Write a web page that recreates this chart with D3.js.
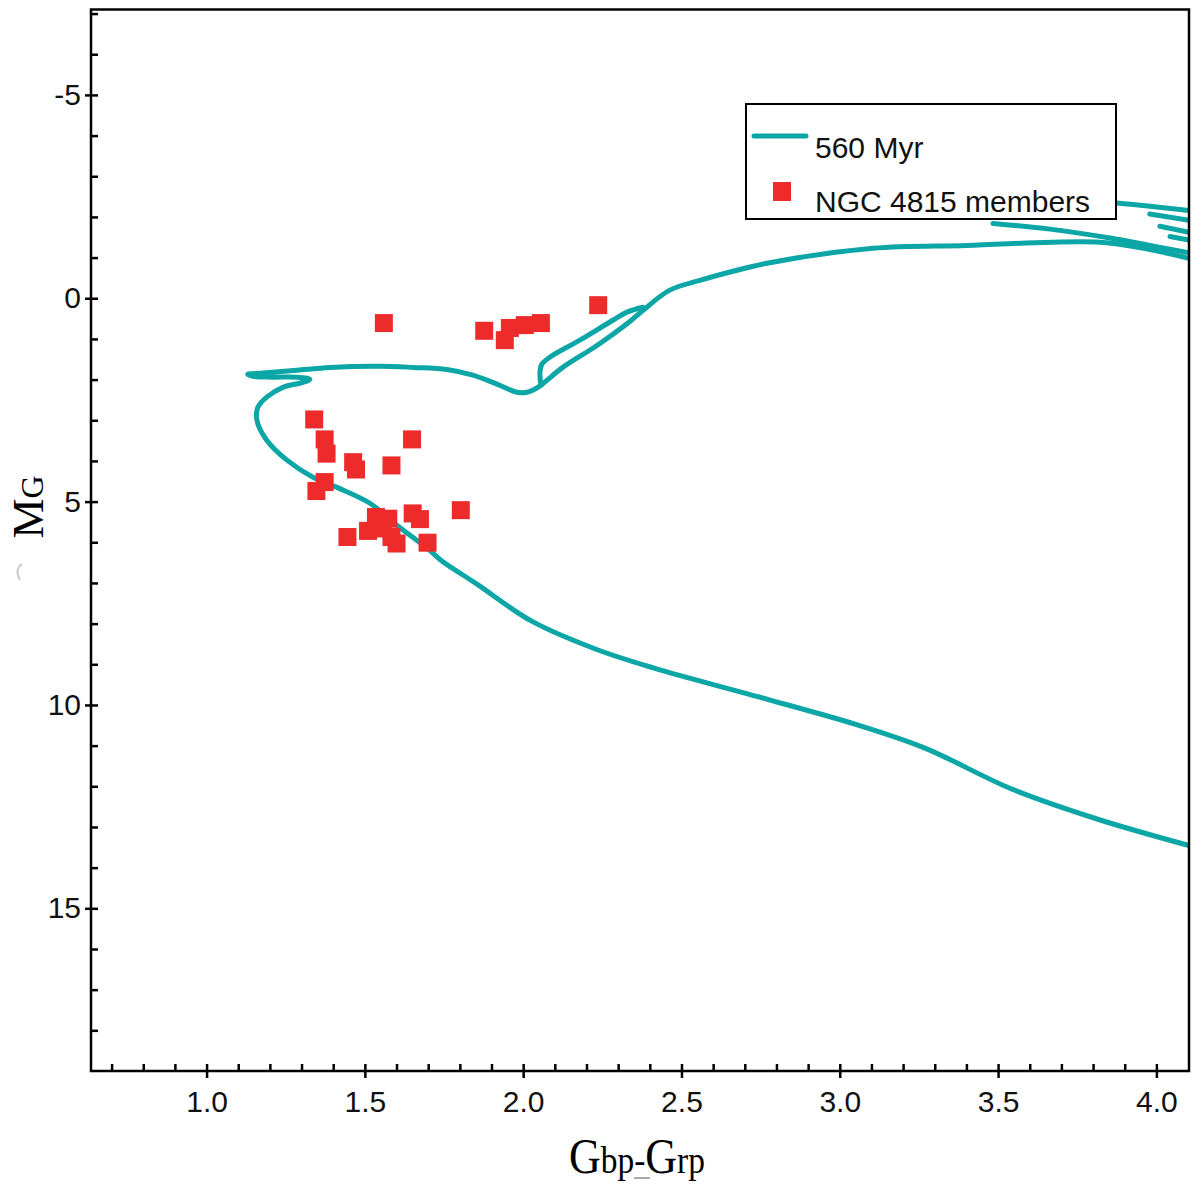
<!DOCTYPE html>
<html lang="en">
<head>
    <meta charset="UTF-8">
    <title>NGC 4815 CMD</title>
    <style>
        body {
            margin: 0;
            background: #fff;
        }

        .tick text {
            font-family: "Liberation Sans", Arial, sans-serif;
            font-size: 30px;
            fill: #111;
        }

        .tick line {
            stroke: #000;
            stroke-width: 2.5px;
        }

        .iso {
            fill: none;
            stroke: #0ca6a6;
            stroke-width: 5px;
            stroke-linecap: round;
            stroke-linejoin: round;
        }

        .member {
            fill: #ee2b2b;
        }

        .legend text {
            font-family: "Liberation Sans", Arial, sans-serif;
            font-size: 30px;
            fill: #111;
        }

        .title {
            font-family: "Liberation Serif", "Times New Roman", serif;
            fill: #000;
        }
    </style>
</head>
<body>
    <svg id="chart" width="1200" height="1186"></svg>

    <script src="https://d3js.org/d3.v7.min.js"></script>
    <script>
        // isochrone 560 Myr, main track: lower MS -> turnoff hook -> subgiant -> RGB
        const mainColor = [4.10, 3.815, 3.544, 3.269, 3.060, 2.738, 2.416, 2.230, 2.027, 1.854,
            1.740, 1.705, 1.601, 1.516, 1.412, 1.336, 1.254, 1.190, 1.159, 1.162,
            1.190, 1.241, 1.304, 1.326, 1.285, 1.209, 1.146, 1.130, 1.178, 1.285,
            1.389, 1.547, 1.652, 1.759, 1.841, 1.917, 1.980, 2.012, 2.046, 2.125,
            2.233, 2.337, 2.378, 2.463, 2.558, 2.770, 3.105, 3.401, 3.822, 3.979, 4.103];
        const mainMag = [13.45, 12.81, 12.07, 11.06, 10.50, 9.79, 9.10, 8.63, 7.94, 7.03,
            6.44, 6.20, 5.58, 5.04, 4.65, 4.40, 3.98, 3.49, 3.00, 2.68,
            2.43, 2.19, 2.07, 1.99, 1.94, 1.94, 1.92, 1.87, 1.84, 1.77,
            1.70, 1.67, 1.70, 1.75, 1.89, 2.11, 2.31, 2.31, 2.19, 1.70,
            1.16, 0.57, 0.30, -0.20, -0.44, -0.86, -1.23, -1.30, -1.38, -1.20, -0.98];

        // narrow loop above the subgiant dip
        const loopColor = [2.056, 2.053, 2.059, 2.084, 2.179, 2.283, 2.328, 2.378];
        const loopMag = [2.14, 1.82, 1.62, 1.45, 1.03, 0.54, 0.34, 0.22];

        // bright branches near the right edge
        const agbColor = [3.695, 3.875, 3.979, 4.103];
        const agbMag = [-2.43, -2.34, -2.26, -2.16];
        const clumpColor = [3.484, 3.664, 3.854, 3.979, 4.103];
        const clumpMag = [-1.84, -1.70, -1.48, -1.30, -1.12];
        const tipColor = [3.979, 4.103, null, 4.011, 4.103, null, 4.043, 4.103];
        const tipMag = [-2.07, -1.92, null, -1.77, -1.62, null, -1.52, -1.43];

        // NGC 4815 members
        const memColor = [1.560, 1.877, 1.942, 1.958, 2.005, 2.056, 2.237, 1.340, 1.373, 1.379,
            1.463, 1.472, 1.649, 1.584, 1.373, 1.347, 1.535, 1.574, 1.651, 1.674,
            1.803, 1.445, 1.510, 1.584, 1.600, 1.698, 1.557];
        const memMag = [0.61, 0.80, 1.03, 0.73, 0.66, 0.61, 0.17, 2.98, 3.47, 3.82,
            4.03, 4.21, 3.47, 4.11, 4.52, 4.74, 5.38, 5.42, 5.29, 5.43,
            5.21, 5.87, 5.72, 5.87, 6.03, 6.01, 5.66];

        const xMajor = [1.0, 1.5, 2.0, 2.5, 3.0, 3.5, 4.0];
        const yMajor = [-5, 0, 5, 10, 15];

        const plotLeft = 91, plotRight = 1189, plotTop = 9.5, plotBottom = 1071;

        const svg = d3.select("#chart");

        const x = d3.scaleLinear().domain([0.635, 4.103]).range([plotLeft, plotRight]);
        const y = d3.scaleLinear().domain([-7.1, 19.0]).range([plotTop, plotBottom]);

        svg.append("defs").append("clipPath")
            .attr("id", "plot-clip")
            .append("rect")
            .attr("x", plotLeft).attr("y", plotTop)
            .attr("width", plotRight - plotLeft).attr("height", plotBottom - plotTop);

        const zip = (cs, ms) => cs.map((c, i) => ({ c: c, m: ms[i] }));

        const line = d3.line()
            .defined(d => d.c != null)
            .x(d => x(d.c))
            .y(d => y(d.m))
            .curve(d3.curveCatmullRom.alpha(0.5));

        const plot = svg.append("g").attr("clip-path", "url(#plot-clip)");

        [zip(mainColor, mainMag), zip(loopColor, loopMag), zip(agbColor, agbMag),
            zip(clumpColor, clumpMag), zip(tipColor, tipMag)].forEach(pts => {
            plot.append("path")
                .attr("class", "iso")
                .attr("d", line(pts));
        });

        // members, drawn as squares
        const sq = 18;
        plot.selectAll(".member")
            .data(zip(memColor, memMag))
            .enter()
            .append("rect")
            .attr("class", "member")
            .attr("x", d => x(d.c) - sq / 2)
            .attr("y", d => y(d.m) - sq / 2)
            .attr("width", sq)
            .attr("height", sq);

        // axes: inward minor/major ticks plus outward major ticks with labels
        const xMinor = d3.range(7, 41).map(v => v / 10);
        const yMinor = d3.range(-7, 19);

        svg.append("g")
            .attr("transform", `translate(0,${plotBottom})`)
            .call(d3.axisBottom(x).tickValues(xMinor).tickSize(-7).tickFormat(""))
            .call(g => g.select(".domain").remove());

        svg.append("g")
            .attr("transform", `translate(0,${plotBottom})`)
            .call(d3.axisBottom(x).tickValues(xMajor).tickSize(7).tickPadding(13)
                .tickFormat(d3.format(".1f")))
            .call(g => g.select(".domain").remove());

        svg.append("g")
            .attr("transform", `translate(${plotLeft},0)`)
            .call(d3.axisLeft(y).tickValues(yMinor).tickSize(-7).tickFormat(""))
            .call(g => g.select(".domain").remove());

        svg.append("g")
            .attr("transform", `translate(${plotLeft},0)`)
            .call(d3.axisLeft(y).tickValues(yMajor).tickSize(6).tickPadding(4)
                .tickFormat(d => String(d)))
            .call(g => g.select(".domain").remove());

        // frame
        svg.append("rect")
            .attr("x", plotLeft).attr("y", plotTop)
            .attr("width", plotRight - plotLeft).attr("height", plotBottom - plotTop)
            .attr("fill", "none")
            .attr("stroke", "#000")
            .attr("stroke-width", 2.5);

        // legend
        const legend = svg.append("g").attr("class", "legend");
        legend.append("rect")
            .attr("x", 746).attr("y", 104)
            .attr("width", 370).attr("height", 115)
            .attr("fill", "#fff")
            .attr("stroke", "#000")
            .attr("stroke-width", 2);
        legend.append("line")
            .attr("x1", 754).attr("x2", 806)
            .attr("y1", 136).attr("y2", 136)
            .attr("stroke", "#0ca6a6")
            .attr("stroke-width", 5)
            .attr("stroke-linecap", "round");
        legend.append("text").attr("x", 815).attr("y", 158).text("560 Myr");
        legend.append("rect")
            .attr("class", "member")
            .attr("x", 773).attr("y", 182)
            .attr("width", 18).attr("height", 19);
        legend.append("text").attr("x", 815).attr("y", 212).text("NGC 4815 members");

        // x title
        const xt = svg.append("g")
            .attr("transform", "translate(637,1173) scale(0.88,1)")
            .append("text")
            .attr("class", "title")
            .attr("text-anchor", "middle");
        xt.append("tspan").attr("font-size", 50).text("G");
        xt.append("tspan").attr("font-size", 38).text("bp-");
        xt.append("tspan").attr("font-size", 50).text("G");
        xt.append("tspan").attr("font-size", 38).text("rp");

        svg.append("line")
            .attr("x1", 634).attr("x2", 650)
            .attr("y1", 1178).attr("y2", 1178)
            .attr("stroke", "#aaa")
            .attr("stroke-width", 2);

        // y title
        const yt = svg.append("text")
            .attr("class", "title")
            .attr("text-anchor", "middle")
            .attr("transform", "translate(43,507) rotate(-90)");
        yt.append("tspan").attr("font-size", 45).text("M");
        yt.append("tspan").attr("font-size", 32).text("G");

        svg.append("path")
            .attr("d", "M22,564 Q14,570 20,580")
            .attr("fill", "none")
            .attr("stroke", "#ccc")
            .attr("stroke-width", 2);
    </script>
</body>
</html>
